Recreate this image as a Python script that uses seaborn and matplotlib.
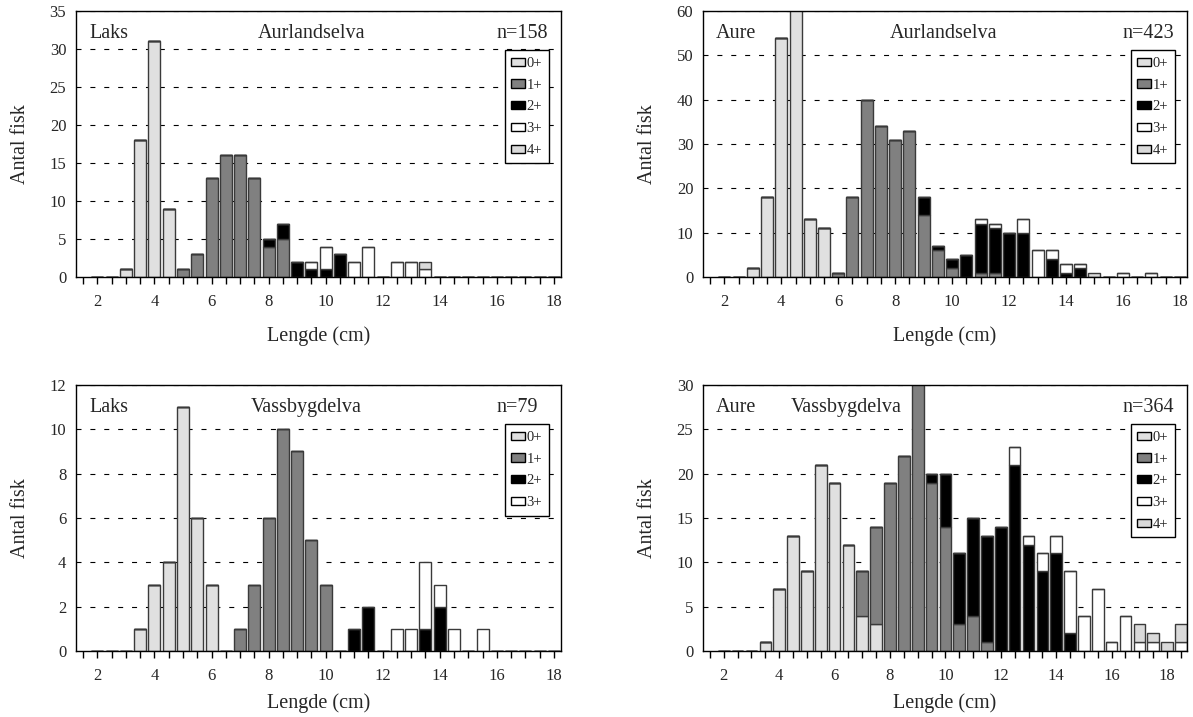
import numpy as np
import pandas as pd
import matplotlib
matplotlib.use("Agg")
import matplotlib.pyplot as plt
from matplotlib.patches import Patch
import seaborn as sns

sns.set_theme(style="white")
plt.rcParams['font.family'] = ['Liberation Serif', 'DejaVu Serif']

AGES = ["0+", "1+", "2+", "3+", "4+"]
COLORS = {"0+": "#e0e0e0", "1+": "#808080", "2+": "#000000", "3+": "#ffffff", "4+": "#dadada"}

# ---- Laks, Aurlandselva (n=158) ----
la_len = [3.0, 3.5, 4.0, 4.5, 5.0, 5.5, 6.0, 6.5, 7.0, 7.5, 8.0, 8.5, 9.0, 9.5, 10.0, 10.5, 11.0, 11.5, 12.5, 13.0, 13.5]
la_0 = [1, 18, 31, 9, 0, 0, 0, 0, 0, 0, 0, 0, 0, 0, 0, 0, 0, 0, 0, 0, 0]
la_1 = [0, 0, 0, 0, 1, 3, 13, 16, 16, 13, 4, 5, 0, 0, 0, 0, 0, 0, 0, 0, 0]
la_2 = [0, 0, 0, 0, 0, 0, 0, 0, 0, 0, 1, 2, 2, 1, 1, 3, 0, 0, 0, 0, 0]
la_3 = [0, 0, 0, 0, 0, 0, 0, 0, 0, 0, 0, 0, 0, 1, 3, 0, 2, 4, 2, 2, 1]
la_4 = [0, 0, 0, 0, 0, 0, 0, 0, 0, 0, 0, 0, 0, 0, 0, 0, 0, 0, 0, 0, 1]

# ---- Aure, Aurlandselva (n=423) ----
aa_len = [3.0, 3.5, 4.0, 4.5, 5.0, 5.5, 6.0, 6.5, 7.0, 7.5, 8.0, 8.5, 9.0, 9.5, 10.0, 10.5, 11.0, 11.5,
          12.0, 12.5, 13.0, 13.5, 14.0, 14.5, 15.0, 16.0, 17.0]
aa_0 = [2, 18, 54, 65, 13, 11, 0, 0, 0, 0, 0, 0, 0, 0, 0, 0, 0, 0, 0, 0, 0, 0, 0, 0, 0, 0, 0]
aa_1 = [0, 0, 0, 0, 0, 0, 1, 18, 40, 34, 31, 33, 14, 6, 2, 0, 1, 1, 0, 0, 0, 0, 0, 0, 0, 0, 0]
aa_2 = [0, 0, 0, 0, 0, 0, 0, 0, 0, 0, 0, 0, 4, 1, 2, 5, 11, 10, 10, 10, 0, 4, 1, 2, 0, 0, 0]
aa_3 = [0, 0, 0, 0, 0, 0, 0, 0, 0, 0, 0, 0, 0, 0, 0, 0, 1, 1, 0, 3, 6, 2, 2, 1, 0, 1, 1]
aa_4 = [0, 0, 0, 0, 0, 0, 0, 0, 0, 0, 0, 0, 0, 0, 0, 0, 0, 0, 0, 0, 0, 0, 0, 0, 1, 0, 0]

# ---- Laks, Vassbygdelva (n=79) ----
lv_len = [3.5, 4.0, 4.5, 5.0, 5.5, 6.0, 7.0, 7.5, 8.0, 8.5, 9.0, 9.5, 10.0, 11.0, 11.5, 12.5, 13.0, 13.5, 14.0, 14.5, 15.5]
lv_0 = [1, 3, 4, 11, 6, 3, 0, 0, 0, 0, 0, 0, 0, 0, 0, 0, 0, 0, 0, 0, 0]
lv_1 = [0, 0, 0, 0, 0, 0, 1, 3, 6, 10, 9, 5, 3, 0, 0, 0, 0, 0, 0, 0, 0]
lv_2 = [0, 0, 0, 0, 0, 0, 0, 0, 0, 0, 0, 0, 0, 1, 2, 0, 0, 1, 2, 0, 0]
lv_3 = [0, 0, 0, 0, 0, 0, 0, 0, 0, 0, 0, 0, 0, 0, 0, 1, 1, 3, 1, 1, 1]

# ---- Aure, Vassbygdelva (n=364) ----
av_len = [3.5, 4.0, 4.5, 5.0, 5.5, 6.0, 6.5, 7.0, 7.5, 8.0, 8.5, 9.0, 9.5, 10.0, 10.5, 11.0, 11.5, 12.0,
          12.5, 13.0, 13.5, 14.0, 14.5, 15.0, 15.5, 16.0, 16.5, 17.0, 17.5, 18.0, 18.5]
av_0 = [1, 7, 13, 9, 21, 19, 12, 4, 3, 0, 0, 0, 0, 0, 0, 0, 0, 0, 0, 0, 0, 0, 0, 0, 0, 0, 0, 0, 0, 0, 0]
av_1 = [0, 0, 0, 0, 0, 0, 0, 5, 11, 19, 22, 31, 19, 14, 3, 4, 1, 0, 0, 0, 0, 0, 0, 0, 0, 0, 0, 0, 0, 0, 0]
av_2 = [0, 0, 0, 0, 0, 0, 0, 0, 0, 0, 0, 0, 1, 6, 8, 11, 12, 14, 21, 12, 9, 11, 2, 0, 0, 0, 0, 0, 0, 0, 0]
av_3 = [0, 0, 0, 0, 0, 0, 0, 0, 0, 0, 0, 0, 0, 0, 0, 0, 0, 0, 2, 1, 2, 2, 7, 4, 7, 1, 4, 1, 1, 0, 1]
av_4 = [0, 0, 0, 0, 0, 0, 0, 0, 0, 0, 0, 0, 0, 0, 0, 0, 0, 0, 0, 0, 0, 0, 0, 0, 0, 0, 0, 2, 1, 1, 2]

panels = [
    dict(lengths=la_len, series=[la_0, la_1, la_2, la_3, la_4], species="Laks", river="Aurlandselva",
         n="n=158", ymax=35, ystep=5, xmax=18.25, rivx=0.485),
    dict(lengths=aa_len, series=[aa_0, aa_1, aa_2, aa_3, aa_4], species="Aure", river="Aurlandselva",
         n="n=423", ymax=60, ystep=10, xmax=18.25, rivx=0.496),
    dict(lengths=lv_len, series=[lv_0, lv_1, lv_2, lv_3], species="Laks", river="Vassbygdelva",
         n="n=79", ymax=12, ystep=2, xmax=18.25, rivx=0.475),
    dict(lengths=av_len, series=[av_0, av_1, av_2, av_3, av_4], species="Aure", river="Vassbygdelva",
         n="n=364", ymax=30, ystep=5, xmax=18.72, rivx=0.295),
]

fig = plt.figure(figsize=(11.93, 7.17), dpi=100)
W, H = 1193, 717
boxes = [(76, 561, 11, 277), (703, 1187, 11, 277), (76, 561, 385, 651), (703, 1187, 385, 651)]
xlabpads = [12, 12, 7, 7]

for p, (l, r, t, b), xlp in zip(panels, boxes, xlabpads):
    ax = fig.add_axes([l / W, 1 - b / H, (r - l) / W, (b - t) / H])
    ages = AGES[:len(p["series"])]
    rows = []
    for age, vals in zip(ages, p["series"]):
        for x, v in zip(p["lengths"], vals):
            rows.append({"length": x, "age": age, "count": v})
    df = pd.DataFrame(rows)
    for yv in np.arange(p["ystep"], p["ymax"] + 0.01, p["ystep"]):
        ax.axhline(yv, color="black", lw=0.8, ls=(0, (4.5, 8)), zorder=0)
    sns.histplot(data=df, x="length", weights="count", hue="age", hue_order=ages[::-1],
                 multiple="stack", binwidth=0.5, binrange=(1.75, 18.75), shrink=0.84, palette=COLORS,
                 edgecolor="#3a3a3a", linewidth=1.0, alpha=1, legend=False, ax=ax, zorder=2)
    ax.set_xlim(1.25, p["xmax"])
    ax.set_ylim(0, p["ymax"])
    yt = np.arange(0, p["ymax"] + 0.01, p["ystep"])
    ax.set_yticks(yt)
    ax.set_yticklabels([f"{int(v)}" for v in yt])
    xt = np.arange(1.5, p["xmax"] + 0.01, 0.5)
    ax.set_xticks(xt)
    ax.set_xticklabels([f"{int(v)}" if v % 2 == 0 else "" for v in xt])
    ax.tick_params(axis="x", direction="out", length=5, width=1, color="black", labelsize=12, pad=7, bottom=True)
    ax.tick_params(axis="y", length=0, labelsize=12, pad=7)
    for s in ax.spines.values():
        s.set_visible(True)
        s.set_color("black")
        s.set_linewidth(1.0)
    ax.grid(False)
    ax.set_xlabel("Lengde (cm)", fontsize=14.5, labelpad=xlp)
    ax.set_ylabel("Antal fisk", fontsize=14.5, labelpad=14)
    ax.text(0.027, 0.917, p["species"], transform=ax.transAxes, fontsize=14.5, va="center", ha="left")
    ax.text(p["rivx"], 0.917, p["river"], transform=ax.transAxes, fontsize=14.5, va="center", ha="center")
    ax.text(0.866, 0.917, p["n"], transform=ax.transAxes, fontsize=14.5, va="center", ha="left")
    handles = [Patch(facecolor=COLORS[a], edgecolor="black", linewidth=1.0, label=a) for a in ages]
    leg = ax.legend(handles=handles, loc="upper right", bbox_to_anchor=(0.975, 0.852), fontsize=10.5,
                    frameon=True, fancybox=False, edgecolor="black", framealpha=1,
                    handlelength=0.95, handleheight=0.5, handletextpad=0.1, labelspacing=0.6,
                    borderpad=0.45, borderaxespad=0)
    leg.get_frame().set_linewidth(1.0)

fig.savefig("out.png", dpi=100)
